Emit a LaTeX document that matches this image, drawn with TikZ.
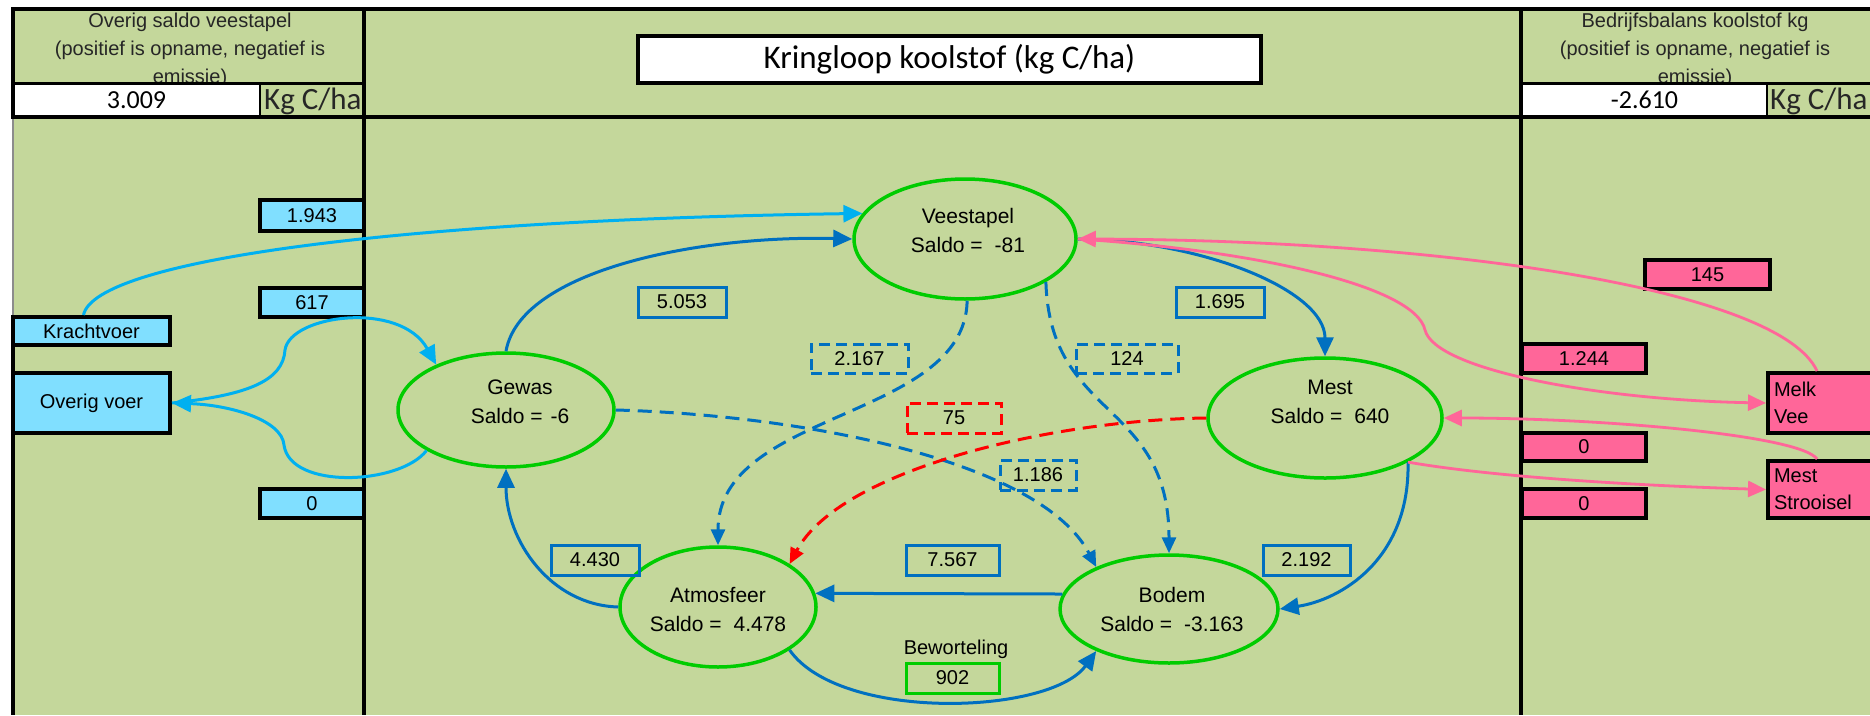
\documentclass[tikz,border=0pt]{standalone}
\usepackage{fontspec}
\setmainfont{Liberation Sans}
\newfontfamily\calfont{Carlito}
\usetikzlibrary{shapes.geometric,arrows.meta}
\definecolor{bg}{HTML}{C4D79B}
\definecolor{ellgreen}{HTML}{00CC00}
\definecolor{arrblue}{HTML}{0070C0}
\definecolor{arrcyan}{HTML}{00B0F0}
\definecolor{arrpink}{HTML}{FF6699}
\definecolor{fillcyan}{HTML}{80DFFF}
\definecolor{fillpink}{HTML}{FF6699}
\definecolor{arrred}{HTML}{FF0000}
\newcommand{\fsz}[2]{\fontsize{#1pt}{#2pt}\selectfont}
\begin{document}
\begin{tikzpicture}[x=1pt,y=-1pt,
  ell/.style={ellipse,draw=ellgreen,line width=3.5pt,inner sep=0pt},
  elltext/.style={align=center,font=\fsz{21}{29},inner sep=0pt},
  numbox/.style={draw=arrblue,line width=3pt,inner sep=0pt,font=\fsz{20}{24}},
  dnumbox/.style={numbox,dash pattern=on 11pt off 6pt},
  cbox/.style={draw=black,fill=fillcyan,line width=4pt,inner sep=0pt,font=\fsz{20}{24}},
  pbox/.style={draw=black,fill=fillpink,line width=4pt,inner sep=0pt,font=\fsz{20}{24}},
  hdr/.style={align=center,font=\fsz{20}{28},inner sep=0pt,text=black!85},
  bline/.style={draw=arrblue,line width=3pt,-{Triangle[length=19pt,width=17pt]}},
  bdash/.style={draw=arrblue,line width=3pt,dash pattern=on 14pt off 8pt,-{Triangle[length=16pt,width=14pt]}},
  rdash/.style={draw=arrred,line width=3pt,dash pattern=on 14pt off 8pt,-{Triangle[length=16pt,width=14pt]}},
  cline/.style={draw=arrcyan,line width=3pt,-{Triangle[length=19pt,width=17pt]}},
  pline/.style={draw=arrpink,line width=2.8pt,-{Triangle[length=18pt,width=16pt]}},
  gridline/.style={draw=black,line width=4pt}
]
\useasboundingbox (0,0) rectangle (1870,715);
\fill[white] (0,0) rectangle (1870,715);
\fill[bg] (13,9) rectangle (1870,715);

% header texts
\node[hdr] (hdrL) at (190,50) {Overig saldo veestapel\\(positief is opname, negatief is\\emissie)};
\node[hdr] (hdrR) at (1695,50) {Bedrijfsbalans koolstof kg\\(positief is opname, negatief is\\emissie)};
\node[draw=black,line width=2pt,fill=white,minimum width=247pt,minimum height=34pt,inner sep=0pt,font=\calfont\fsz{26}{30}] (valL) at (136.5,100) {3.009};
\node[anchor=west,font=\calfont\fsz{31}{34},inner sep=0pt,text=black!85] (unitL) at (264,101) {Kg C/ha};
\node[draw=black,line width=2pt,fill=white,minimum width=245pt,minimum height=34pt,inner sep=0pt,font=\calfont\fsz{26}{30}] (valR) at (1644.5,100) {-2.610};
\node[anchor=west,font=\calfont\fsz{31}{34},inner sep=0pt,text=black!85] (unitR) at (1770,101) {Kg C/ha};

% grid
\draw[gridline] (11,9) -- (1870,9);
\draw[gridline] (13,9) -- (13,117);
\draw[draw=black!45,line width=1.5pt] (13,117) -- (13,317);
\draw[gridline] (13,317) -- (13,715);
\draw[gridline] (364,9) -- (364,715);
\draw[gridline] (1521,9) -- (1521,715);
\draw[gridline] (11,117) -- (1870,117);
\draw[draw=black,line width=3pt] (13,83) -- (364,83);
\draw[draw=black,line width=3pt] (1521,83) -- (1870,83);

% title
\node[draw=black,line width=4pt,fill=white,minimum width=623pt,minimum height=47pt,inner sep=0pt,font=\calfont\fsz{33}{36}] (title) at (949.5,59.5) {Kringloop koolstof (kg C/ha)};

% side boxes
\node[cbox,minimum width=104pt,minimum height=31pt] (b1943) at (312,215.5) {1.943};
\node[cbox,minimum width=104pt,minimum height=29pt] (b617) at (312,302.5) {617};
\node[cbox,minimum width=104pt,minimum height=29pt] (b0L) at (312,503.5) {0};
\node[cbox,minimum width=157pt,minimum height=28pt] (kracht) at (91.5,331) {Krachtvoer};
\node[cbox,minimum width=157pt,minimum height=60pt] (overig) at (91.5,403) {Overig voer};
\node[pbox,minimum width=125pt,minimum height=29pt] (p145) at (1707.5,274.5) {145};
\node[pbox,minimum width=124pt,minimum height=29pt] (p1244) at (1584,358.5) {1.244};
\node[pbox,minimum width=124pt,minimum height=28pt] (p0a) at (1584,447) {0};
\node[pbox,minimum width=124pt,minimum height=29pt] (p0b) at (1584,503.5) {0};
\node[pbox,minimum width=132pt,minimum height=60pt,text width=120pt,align=left,font=\fsz{20}{27}] (melk) at (1834,403) {Melk\\Vee};
\node[pbox,minimum width=132pt,minimum height=57pt,text width=120pt,align=left,font=\fsz{20}{27}] (strooisel) at (1834,489.5) {Mest\\Strooisel};

% ellipses
\node[ell,minimum width=222pt,minimum height=120pt] (vee) at (965,239) {};
\node[ell,minimum width=216pt,minimum height=114pt] (gewas) at (506,410) {};
\node[ell,minimum width=234pt,minimum height=120pt] (mest) at (1325,418) {};
\node[ell,minimum width=196pt,minimum height=120pt] (atmo) at (718,607) {};
\node[ell,minimum width=218pt,minimum height=108pt] (bodem) at (1169,609) {};
\node[elltext] (veeT) at (968,230) {Veestapel\\Saldo =\hspace{12pt}-81};
\node[elltext] (gewasT) at (520,402) {Gewas\\Saldo =\hspace{8pt}-6};
\node[elltext] (mestT) at (1330,402) {Mest\\Saldo =\hspace{12pt}640};
\node[elltext] (atmoT) at (718,609) {Atmosfeer\\Saldo =\hspace{12pt}4.478};
\node[elltext] (bodemT) at (1172,609) {Bodem\\Saldo =\hspace{12pt}-3.163};

% connectors
\draw[cline] ([xshift=-8pt]kracht.north) .. controls (95,260) and (400,220) .. (vee.166);
\draw[cline] (overig.east) .. controls (250,395) and (283,380) .. (285,350) .. controls (290,315) and (400,300) .. (gewas.147);
\draw[cline] (gewas.207) .. controls (400,485) and (290,490) .. (284,445) .. controls (282,420) and (230,405) .. (overig.east);
\draw[bline] (gewas.north) .. controls (520,270) and (700,235) .. (vee.west);
\draw[bline] (vee.east) .. controls (1200,240) and (1325,290) .. (mest.north);
\draw[bline] (mest.-28) .. controls (1410,560) and (1340,600) .. (bodem.east);
\draw[bline] (atmo.west) .. controls (550,605) and (506,540) .. (gewas.south);
\draw[bline] (bodem.172) -- (atmo.8);
\draw[bline] (atmo.-31) .. controls (840,722) and (1050,715) .. (bodem.210);
\draw[bdash] (vee.-88) .. controls (965,420) and (718,410) .. (atmo.north);
\draw[bdash] (vee.-28) .. controls (1050,420) and (1169,400) .. (bodem.north);
\draw[bdash] (gewas.east) .. controls (800,415) and (1040,460) .. (bodem.150);
\draw[rdash] (mest.west) .. controls (1050,420) and (840,470) .. (atmo.31);
\draw[pline] ([xshift=-17pt]melk.north) .. controls (1780,290) and (1450,240) .. (vee.east);
\draw[pline] (vee.east) .. controls (1250,250) and (1415,285) .. (1425,330) .. controls (1435,370) and (1600,400) .. (melk.west);
\draw[pline] ([xshift=-17pt]strooisel.north) .. controls (1800,435) and (1600,418) .. (mest.east);
\draw[pline] (mest.-28) .. controls (1500,478) and (1650,486) .. (strooisel.west);

% flow labels
\node[numbox,minimum width=88pt,minimum height=30pt] (b5053) at (682,302) {5.053};
\node[numbox,minimum width=88pt,minimum height=30pt] (b1695) at (1220,302) {1.695};
\node[dnumbox,minimum width=97pt,minimum height=29pt] (b2167) at (859.5,358.5) {2.167};
\node[dnumbox,minimum width=102pt,minimum height=29pt] (b124) at (1127,358.5) {124};
\node[dnumbox,draw=arrred,minimum width=94pt,minimum height=30pt] (b75) at (954,418) {75};
\node[dnumbox,minimum width=76pt,minimum height=30pt] (b1186) at (1038,475) {1.186};
\node[numbox,minimum width=88pt,minimum height=30pt] (b4430) at (595,560) {4.430};
\node[numbox,minimum width=93pt,minimum height=30pt] (b7567) at (952.5,560) {7.567};
\node[numbox,minimum width=87pt,minimum height=30pt] (b2192) at (1306.5,560) {2.192};
\node[numbox,draw=ellgreen,minimum width=93pt,minimum height=30pt] (b902) at (952.5,678) {902};
\node[inner sep=0pt,font=\fsz{20}{24}] (bew) at (956,649) {Beworteling};
\end{tikzpicture}
\end{document}
